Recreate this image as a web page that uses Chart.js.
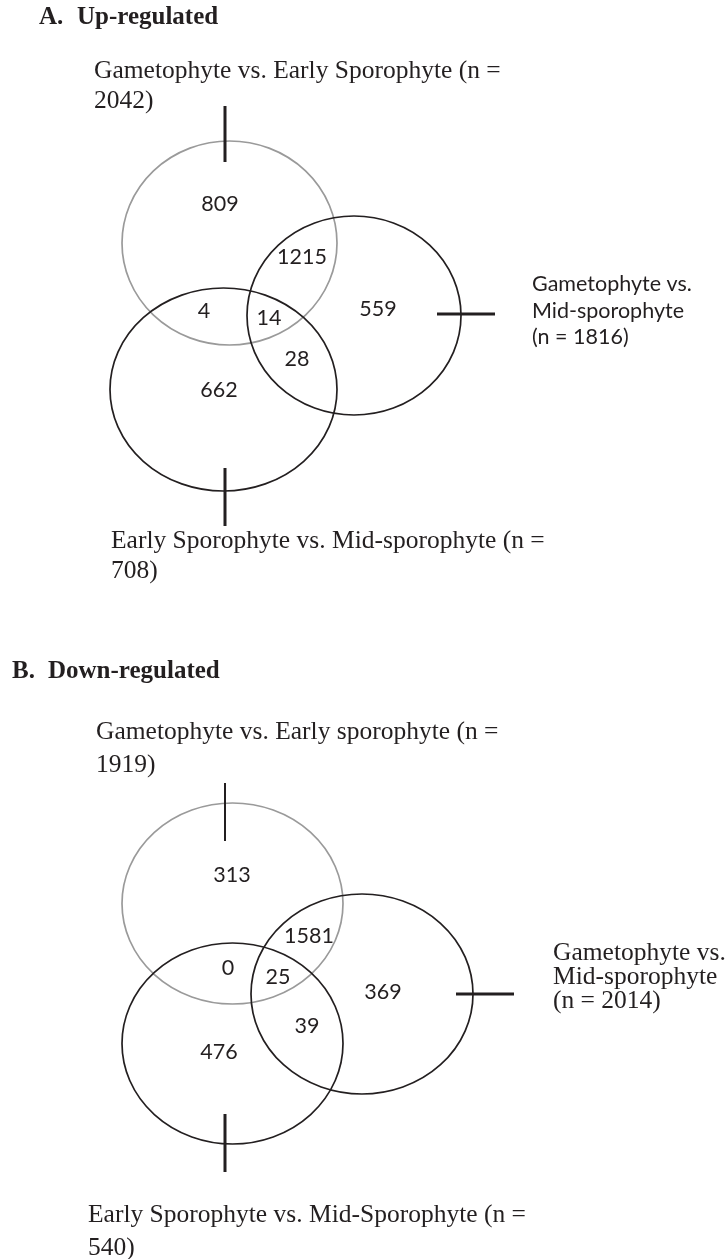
<!DOCTYPE html>
<html>
<head>
<meta charset="utf-8">
<script src="https://cdn.jsdelivr.net/npm/chart.js@4.4.1/dist/chart.umd.min.js"></script>
<style>
  html, body { margin: 0; padding: 0; background: #fff; }
  canvas { display: block; }
</style>
</head>
<body>
<canvas id="venn" width="725" height="1259"></canvas>
<script>
// ---- data ----
const regions = ['Gam only', 'Gam & Early', 'Gam & Mid', 'all three', 'Mid only', 'Early & Mid', 'Early only'];
const upCounts = [809, 4, 1215, 14, 559, 28, 662];
const downCounts = [313, 0, 1581, 25, 369, 39, 476];
const upTitle = ['A.', 'Up-regulated'];
const downTitle = ['B.', 'Down-regulated'];
const upSets = [
  ['Gametophyte vs. Early Sporophyte (n =', '2042)'],
  ['Gametophyte vs.', 'Mid-sporophyte', '(n = 1816)'],
  ['Early Sporophyte vs. Mid-sporophyte (n =', '708)']
];
const downSets = [
  ['Gametophyte vs. Early sporophyte (n =', '1919)'],
  ['Gametophyte vs.', 'Mid-sporophyte', '(n = 2014)'],
  ['Early Sporophyte vs. Mid-Sporophyte (n =', '540)']
];

// ---- layout (chart units, 1 unit = 1 px) ----
const INK = '#231f20';
const SERIF = '"Liberation Serif", "Times New Roman", serif';
const SANS = 'Lato, "Open Sans", sans-serif';

const panels = [
  {
    title: upTitle, sets: upSets, counts: upCounts,
    titlePos: [[39, 18], [77, 18]],
    circles: [
      { x: 229.5, y: 243, rx: 107.5, ry: 102, color: '#9a9a9a' },
      { x: 354, y: 315.5, rx: 107, ry: 99.5, color: INK },
      { x: 223.5, y: 389.5, rx: 113.5, ry: 101.5, color: INK }
    ],
    countPos: [[220, 204], [204, 311], [302, 257], [269, 318], [378, 309], [297, 359], [219, 390]],
    ticks: [
      { pts: [[225, 106], [225, 162]], w: 3 },
      { pts: [[437, 314], [495, 314]], w: 3 },
      { pts: [[225, 468], [225, 526]], w: 3 }
    ],
    setPos: [
      { x: 94, y: [71, 101], font: SERIF, size: 25.5 },
      { x: 532, y: [284, 311, 337], font: SANS, size: 21.5 },
      { x: 111, y: [541, 571], font: SERIF, size: 25.5 }
    ]
  },
  {
    title: downTitle, sets: downSets, counts: downCounts,
    titlePos: [[12, 672], [48, 672]],
    circles: [
      { x: 232.5, y: 903.5, rx: 110.5, ry: 100.5, color: '#9a9a9a' },
      { x: 362, y: 994, rx: 111, ry: 100, color: INK },
      { x: 232.5, y: 1043.5, rx: 110.5, ry: 100.5, color: INK }
    ],
    countPos: [[232, 875], [228, 968], [309, 936], [278, 977], [383, 992], [307, 1026], [219, 1052]],
    ticks: [
      { pts: [[225, 783], [225, 841]], w: 2 },
      { pts: [[456, 994], [514, 994]], w: 3 },
      { pts: [[225, 1114], [225, 1172]], w: 3 }
    ],
    setPos: [
      { x: 96, y: [732, 765], font: SERIF, size: 25.5 },
      { x: 553, y: [953, 977, 1001], font: SERIF, size: 25.5 },
      { x: 88, y: [1215, 1248], font: SERIF, size: 25.5 }
    ]
  }
];

// ---- datasets ----
const datasets = [];
panels.forEach((p, pi) => {
  p.ticks.forEach(t => {
    datasets.push({
      kind: 'tick',
      data: t.pts.map(([x, y]) => ({ x, y })),
      showLine: true,
      borderColor: INK,
      borderWidth: t.w,
      pointRadius: 0
    });
  });
  datasets.push({
    kind: 'counts',
    panel: pi,
    label: regions.join(','),
    data: p.countPos.map(([x, y], i) => ({ x, y, v: p.counts[i] })),
    pointRadius: 0
  });
});

const vennPlugin = {
  id: 'venn',
  beforeDatasetsDraw(chart) {
    const { ctx, scales: { x, y } } = chart;
    panels.forEach(p => {
      p.circles.forEach(c => {
        const cx = x.getPixelForValue(c.x), cy = y.getPixelForValue(c.y);
        const rx = Math.abs(x.getPixelForValue(c.x + c.rx) - cx);
        const ry = Math.abs(y.getPixelForValue(c.y + c.ry) - cy);
        ctx.save();
        ctx.beginPath();
        ctx.ellipse(cx, cy, rx, ry, 0, 0, Math.PI * 2);
        ctx.strokeStyle = c.color;
        ctx.lineWidth = 1.7;
        ctx.stroke();
        ctx.restore();
      });
    });
  },
  afterDatasetsDraw(chart) {
    const { ctx, scales: { x, y } } = chart;
    ctx.save();
    ctx.fillStyle = INK;
    ctx.textBaseline = 'middle';

    // region counts, placed on the dataset's own points
    chart.data.datasets.forEach((ds, di) => {
      if (ds.kind !== 'counts') return;
      ctx.font = '21.5px ' + SANS;
      ctx.textAlign = 'center';
      chart.getDatasetMeta(di).data.forEach((pt, i) => {
        ctx.fillText(String(ds.data[i].v), pt.x, pt.y);
      });
    });

    ctx.textAlign = 'left';
    panels.forEach(p => {
      ctx.font = 'bold 25px ' + SERIF;
      p.title.forEach((t, i) => {
        ctx.fillText(t, x.getPixelForValue(p.titlePos[i][0]), y.getPixelForValue(p.titlePos[i][1]));
      });
      p.sets.forEach((lines, si) => {
        const s = p.setPos[si];
        ctx.font = s.size + 'px ' + s.font;
        lines.forEach((line, li) => {
          ctx.fillText(line, x.getPixelForValue(s.x), y.getPixelForValue(s.y[li]));
        });
      });
    });
    ctx.restore();
  }
};

function draw() {
  new Chart(document.getElementById('venn'), {
    type: 'scatter',
    data: { datasets },
    options: {
      responsive: false,
      devicePixelRatio: 1,
      animation: false,
      layout: { padding: 0 },
      plugins: { legend: { display: false }, tooltip: { enabled: false } },
      scales: {
        x: { type: 'linear', min: 0, max: 725, display: false },
        y: { type: 'linear', min: 0, max: 1259, reverse: true, display: false }
      }
    },
    plugins: [vennPlugin]
  });
}

Promise.all([
  document.fonts.load('20px Lato'),
  document.fonts.load('25px "Liberation Serif"'),
  document.fonts.load('bold 25px "Liberation Serif"')
]).then(draw, draw);
</script>
</body>
</html>
